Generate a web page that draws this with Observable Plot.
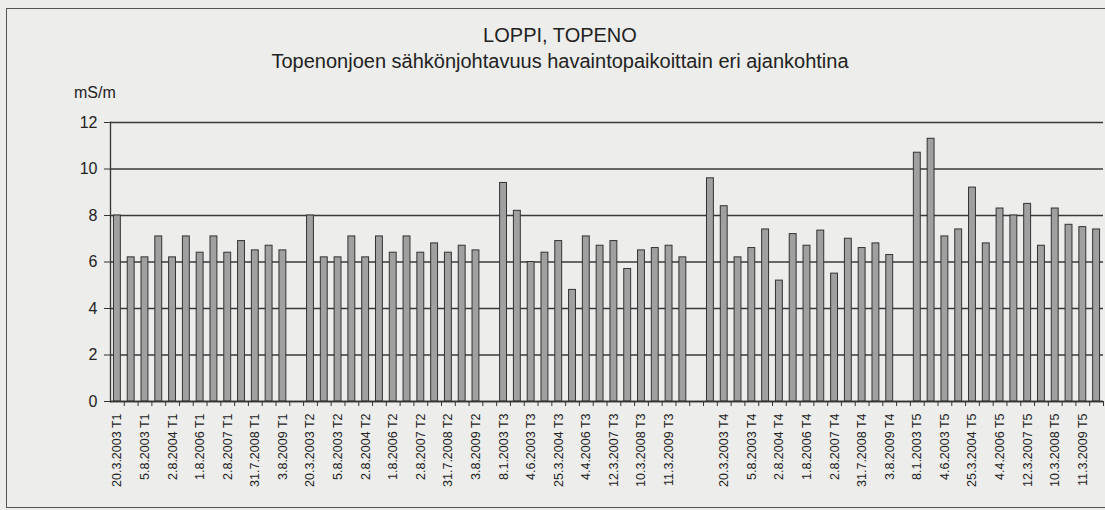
<!DOCTYPE html>
<html><head><meta charset="utf-8">
<script src="https://cdn.jsdelivr.net/npm/d3@7"></script>
<script src="https://cdn.jsdelivr.net/npm/@observablehq/plot@0.6"></script>
<style>
body{margin:0;background:#ededeb;font-family:"Liberation Sans",Arial,sans-serif;color:#222;}
#wrap{position:relative;width:1105px;height:510px;overflow:hidden;}
#frame{position:absolute;left:6px;top:8px;width:1130px;height:500px;border:1.5px solid #555;box-sizing:border-box;}
.t{position:absolute;left:0;width:1120px;text-align:center;font-size:20px;line-height:20px;white-space:nowrap;}
#unit{position:absolute;left:74px;top:85px;font-size:16px;line-height:16px;}
#chart{position:absolute;left:0;top:0;}
</style></head>
<body>
<div id="wrap">
  <div id="frame"></div>
  <div class="t" style="top:25px">LOPPI, TOPENO</div>
  <div class="t" style="top:51px">Topenonjoen sähkönjohtavuus havaintopaikoittain eri ajankohtina</div>
  <div id="unit">mS/m</div>
  <div id="chart"></div>
</div>
<script>
const groups = ["T1", "T2", "T3", "T4", "T5"];
const dates13 = ["20.3.2003", "4.6.2003", "5.8.2003", "25.3.2004", "2.8.2004", "4.4.2006", "1.8.2006", "12.3.2007", "2.8.2007", "10.3.2008", "31.7.2008", "11.3.2009", "3.8.2009"];
const dates14 = ["8.1.2003", ...dates13];
const valuesT1 = [8.0, 6.2, 6.2, 7.1, 6.2, 7.1, 6.4, 7.1, 6.4, 6.9, 6.5, 6.7, 6.5];
const valuesT2 = [8.0, 6.2, 6.2, 7.1, 6.2, 7.1, 6.4, 7.1, 6.4, 6.8, 6.4, 6.7, 6.5];
const valuesT3 = [9.4, 8.2, 6.0, 6.4, 6.9, 4.8, 7.1, 6.7, 6.9, 5.7, 6.5, 6.6, 6.7, 6.2];
const valuesT4 = [9.6, 8.4, 6.2, 6.6, 7.4, 5.2, 7.2, 6.7, 7.35, 5.5, 7.0, 6.6, 6.8, 6.3];
const valuesT5 = [10.7, 11.3, 7.1, 7.4, 9.2, 6.8, 8.3, 8.0, 8.5, 6.7, 8.3, 7.6, 7.5, 7.4];
const yTicks = [0, 2, 4, 6, 8, 10, 12];

const groupDates = [dates13, dates13, dates14, dates14, dates14];
const groupValues = [valuesT1, valuesT2, valuesT3, valuesT4, valuesT5];

const rows = [];
const keys = [];
groups.forEach((g, gi) => {
  groupDates[gi].forEach((d, i) => {
    const key = `${d} ${g}`;
    keys.push(key);
    rows.push({key, value: groupValues[gi][i]});
  });
  if (gi < groups.length - 1) keys.push(`gap ${g}`);
});
const labelOf = new Map(keys.map((k, i) => [k, (i % 2 === 0 && !k.startsWith("gap")) ? k : ""]));

const W = 1105, H = 510, mL = 110, mR = 2, mT = 122, mB = 109;
const step = (W - mL - mR) / keys.length;

const chart = Plot.plot({
  width: W, height: H,
  marginLeft: mL, marginRight: mR, marginTop: mT, marginBottom: mB,
  style: {background: "transparent", fontFamily: "'Liberation Sans', Arial, sans-serif", color: "#222"},
  x: {type: "band", domain: keys, paddingInner: 0.5, paddingOuter: 0.25, label: null},
  y: {domain: [0, 12], label: null},
  marks: [
    Plot.gridY(yTicks, {stroke: "#3a3a3a", strokeOpacity: 1, strokeWidth: 1.3}),
    Plot.barY(rows, {x: "key", y: "value", fill: "#a0a0a0", stroke: "#333", strokeWidth: 1}),
    Plot.ruleY([0], {stroke: "#333", strokeWidth: 1.3}),
    Plot.frame({anchor: "left", stroke: "#333", strokeWidth: 1.3}),
    Plot.axisY(yTicks, {tickSize: 6, tickPadding: 7, fontSize: 16, label: null, stroke: "#333"}),
    Plot.axisX({tickSize: 5, tickFormat: () => "", dx: step / 2, label: null, stroke: "#333"}),
    Plot.axisX({tickSize: 0, tickPadding: 12, tickRotate: -90, fontSize: 12.5, label: null,
                tickFormat: k => labelOf.get(k)})
  ]
});
document.getElementById("chart").appendChild(chart);
</script>
</body></html>
